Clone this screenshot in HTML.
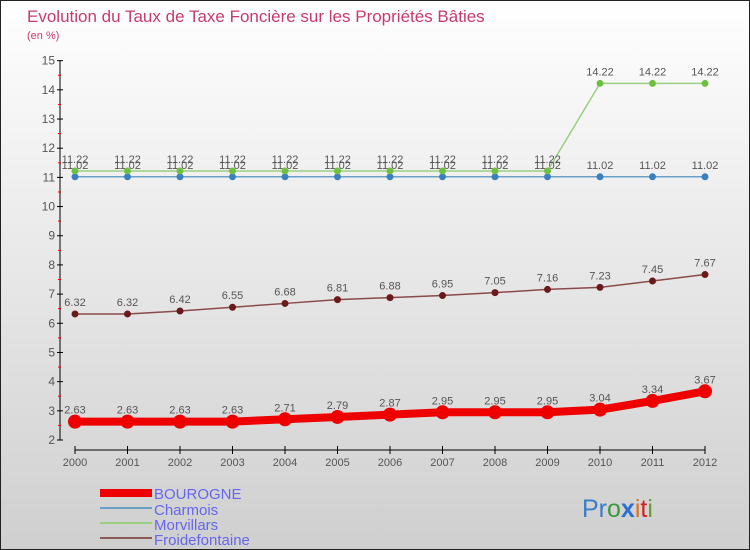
<!DOCTYPE html>
<html><head><meta charset="utf-8"><style>
body{margin:0;width:750px;height:550px;overflow:hidden;font-family:"Liberation Sans",sans-serif}
svg{display:block}
</style></head><body>
<svg id="c" width="750" height="550" xmlns="http://www.w3.org/2000/svg">
<defs><linearGradient id="bg" x1="0" y1="0" x2="0" y2="1"><stop offset="0" stop-color="#ffffff"/><stop offset="1" stop-color="#cfcfcf"/></linearGradient></defs>
<rect x="0.5" y="0.5" width="749" height="549" fill="url(#bg)" stroke="#222"/>
<text x="27" y="22" font-size="17" fill="#c83a6e">Evolution du Taux de Taxe Foncière sur les Propriétés Bâties</text>
<text x="27" y="39" font-size="11" fill="#c83a6e">(en %)</text>
<g id="axes"></g><g id="series"></g>
<g>
<rect x="100" y="489" width="52" height="8" fill="#ee0000"/>
<text x="154" y="499" font-size="15" fill="#6666ee">BOUROGNE</text>
<line x1="100" y1="508" x2="152" y2="508" stroke="#6aa0c8" stroke-width="2"/>
<text x="154" y="515" font-size="15" fill="#6666ee">Charmois</text>
<line x1="100" y1="523" x2="152" y2="523" stroke="#99d080" stroke-width="2"/>
<text x="154" y="530" font-size="15" fill="#6666ee">Morvillars</text>
<line x1="100" y1="538" x2="152" y2="538" stroke="#8b5a5a" stroke-width="2"/>
<text x="154" y="545" font-size="15" fill="#6666ee">Froidefontaine</text>
</g>
<text x="582" y="517" font-size="25"><tspan fill="#3a7ec8">Pr</tspan><tspan fill="#3a9a3a">o</tspan><tspan fill="#2a70d0" font-weight="bold">x</tspan><tspan fill="#e07020">i</tspan><tspan fill="#d02020">t</tspan><tspan fill="#60a030">i</tspan></text>
</svg>
<script>
const years=[2000,2001,2002,2003,2004,2005,2006,2007,2008,2009,2010,2011,2012];
const yTicks=[2,3,4,5,6,7,8,9,10,11,12,13,14,15];
const bourogne=[2.63,2.63,2.63,2.63,2.71,2.79,2.87,2.95,2.95,2.95,3.04,3.34,3.67];
const charmois=[11.02,11.02,11.02,11.02,11.02,11.02,11.02,11.02,11.02,11.02,11.02,11.02,11.02];
const morvillars=[11.22,11.22,11.22,11.22,11.22,11.22,11.22,11.22,11.22,11.22,14.22,14.22,14.22];
const froidefontaine=[6.32,6.32,6.42,6.55,6.68,6.81,6.88,6.95,7.05,7.16,7.23,7.45,7.67];
const NS="http://www.w3.org/2000/svg";
const X=i=>75+i*52.5;
const Y=v=>440-(v-2)*29.18;
function mk(p,t,a){const e=document.createElementNS(NS,t);for(const k in a)e.setAttribute(k,a[k]);p.appendChild(e);return e;}
const ax=document.getElementById('axes');
let l=mk(ax,'line',{x1:60,y1:Y(15),x2:60,y2:Y(2),stroke:'#000'});


yTicks.forEach(v=>{
 mk(ax,'line',{x1:57,y1:Y(v),x2:63,y2:Y(v),stroke:'#000'});
 if(v<15){mk(ax,'line',{x1:58,y1:Y(v+0.5),x2:61,y2:Y(v+0.5),stroke:'#e00'});}
 const t=mk(ax,'text',{x:55,y:Y(v)+4,'font-size':12,fill:'#555','text-anchor':'end'});t.textContent=v;
 
 
});
l=mk(ax,'line',{x1:X(0),y1:450,x2:X(12),y2:450,stroke:'#000'});


years.forEach((y,i)=>{
 mk(ax,'line',{x1:X(i),y1:446,x2:X(i),y2:454,stroke:'#000'});
 const t=mk(ax,'text',{x:X(i),y:466,'font-size':11,fill:'#555','text-anchor':'middle'});t.textContent=y;
 
 
});
const sg=document.getElementById('series');
function series(name,vals,color,w,r,mc,lbl){
 const g=mk(sg,'g',{});
 
 
 const pl=mk(g,'polyline',{points:vals.map((v,i)=>X(i)+','+Y(v)).join(' '),fill:'none',stroke:color,'stroke-width':w,'stroke-linejoin':'round'});
 
 
 vals.forEach((v,i)=>{
  const c=mk(g,'circle',{cx:X(i),cy:Y(v),r:r,fill:mc});
  
  
  if(lbl){const t=mk(g,'text',{x:X(i),y:Y(v)-8,'font-size':11,fill:'#555','text-anchor':'middle'});t.textContent=v;
  
  }
 });
}
series('froidefontaine',froidefontaine,'#8b4a4a',1.5,3.5,'#6a1a1a',true);
series('charmois',charmois,'#6aa0c8',1.5,3.5,'#3a80c0',true);
series('morvillars',morvillars,'#99d080',1.5,3.5,'#70c040',true);
series('bourogne',bourogne,'#ee0000',8,7,'#ee0000',true);
</script>
</body></html>
